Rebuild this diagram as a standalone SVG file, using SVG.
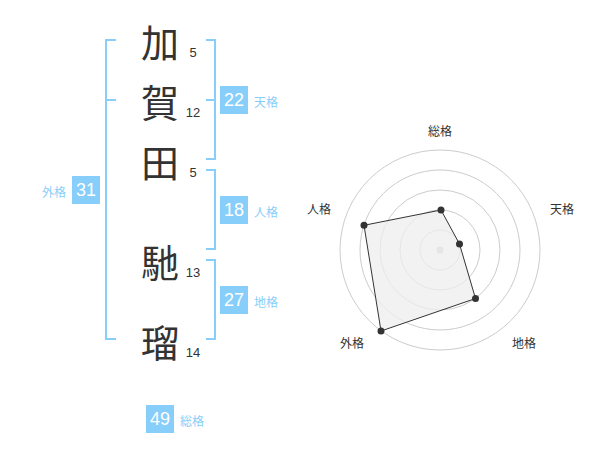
<svg xmlns="http://www.w3.org/2000/svg" width="600" height="470" viewBox="0 0 600 470">
<style>
.kanji{font-family:"Noto Sans CJK JP","Noto Sans CJK SC",sans-serif;font-size:38px;fill:#333;text-anchor:middle;dominant-baseline:central}
.num{font-family:"Liberation Sans",Arial,sans-serif;font-size:13px;fill:#333;text-anchor:middle}
.br{fill:none;stroke:#87cefa;stroke-width:2}
.box{fill:#87cefa}
.bn{font-family:"Liberation Sans",Arial,sans-serif;font-size:18px;fill:#fff;text-anchor:middle;dominant-baseline:central}
.lbl{font-family:"Noto Sans CJK JP","Noto Sans CJK SC",sans-serif;font-size:12px;fill:#87cefa;dominant-baseline:central}
.ring{fill:none;stroke:#ccc;stroke-width:1}
.rl{font-family:"Noto Sans CJK JP","Noto Sans CJK SC",sans-serif;font-size:12px;fill:#333;text-anchor:middle;dominant-baseline:central}
.pt{fill:#333}
</style>
<rect width="600" height="470" fill="#fff"/>
<g id="connectors">
<path class="br" d="M116,40 H106 V339 H116 M106,100 H116"/>
<path class="br" d="M206,40 H215 V159 H206 M215,100 H206"/>
<path class="br" d="M206,170 H215 V249 H206"/>
<path class="br" d="M206,260 H215 V339 H206"/>
</g>
<g id="char-1"><text class="kanji" x="160" y="40">加</text><text class="num" x="193" y="57">5</text></g>
<g id="char-2"><text class="kanji" x="160" y="100">賀</text><text class="num" x="193" y="117">12</text></g>
<g id="char-3"><text class="kanji" x="160" y="160">田</text><text class="num" x="193" y="177">5</text></g>
<g id="char-4"><text class="kanji" x="160" y="260">馳</text><text class="num" x="193" y="277">13</text></g>
<g id="char-5"><text class="kanji" x="160" y="340">瑠</text><text class="num" x="193" y="357">14</text></g>
<g id="tenkaku"><rect class="box" x="220" y="86" width="28" height="28"/><text class="bn" x="234" y="100">22</text><text class="lbl" x="254" y="101">天格</text></g>
<g id="jinkaku"><rect class="box" x="220" y="196" width="28" height="28"/><text class="bn" x="234" y="210">18</text><text class="lbl" x="254" y="211">人格</text></g>
<g id="chikaku"><rect class="box" x="220" y="286" width="28" height="28"/><text class="bn" x="234" y="300">27</text><text class="lbl" x="254" y="301">地格</text></g>
<g id="gaikaku"><rect class="box" x="72" y="176" width="28" height="28"/><text class="bn" x="86" y="190">31</text><text class="lbl" x="66" y="191" text-anchor="end">外格</text></g>
<g id="soukaku"><rect class="box" x="146" y="405" width="28" height="28"/><text class="bn" x="160" y="419">49</text><text class="lbl" x="180" y="420">総格</text></g>
<g id="radar">
<circle class="ring" cx="440" cy="250" r="20"/>
<circle class="ring" cx="440" cy="250" r="40"/>
<circle class="ring" cx="440" cy="250" r="60"/>
<circle class="ring" cx="440" cy="250" r="80"/>
<circle class="ring" cx="440" cy="250" r="100"/>
<circle cx="440" cy="250" r="3.5" fill="#ccc"/>
<polygon points="441,210 459.5,244 475.5,298.5 381,331 364,225.3" fill="#eee" fill-opacity="0.75" stroke="#333" stroke-width="1"/>
<circle class="pt" cx="441" cy="210" r="3.5"/>
<circle class="pt" cx="459.5" cy="244" r="3.5"/>
<circle class="pt" cx="475.5" cy="298.5" r="3.5"/>
<circle class="pt" cx="381" cy="331" r="3.5"/>
<circle class="pt" cx="364" cy="225.3" r="3.5"/>
<text class="rl" x="440" y="130">総格</text>
<text class="rl" x="562" y="208">天格</text>
<text class="rl" x="524" y="342">地格</text>
<text class="rl" x="352" y="342">外格</text>
<text class="rl" x="319" y="208">人格</text>
</g>
</svg>
